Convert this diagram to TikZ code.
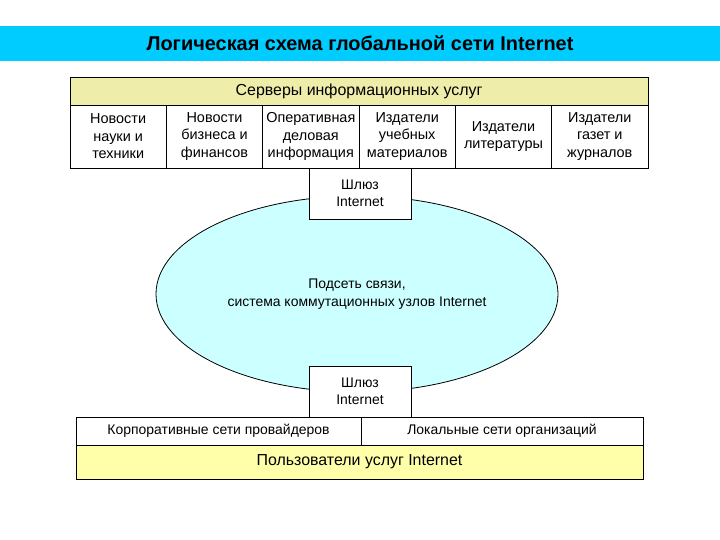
\documentclass[tikz,border=0pt]{standalone}
\usepackage{fontspec}
\setmainfont{Liberation Sans}
\usepackage{tikz}
\usetikzlibrary{shapes.geometric}
\definecolor{barcyan}{RGB}{0,204,255}
\definecolor{netcyan}{RGB}{204,255,255}
\definecolor{headolive}{RGB}{238,238,170}
\definecolor{footyellow}{RGB}{255,255,170}
\tikzstyle{titlebar} = [rectangle, minimum width=720bp, minimum height=35bp, inner sep=0pt, fill=barcyan, font=\fontsize{20}{22}\selectfont\bfseries]
\tikzstyle{cell} = [rectangle, draw=black, line width=0.8bp, inner sep=0pt, align=center, fill=white, font=\fontsize{14}{17.5}\selectfont]
\tikzstyle{server} = [cell, minimum width=96.33bp, minimum height=63bp, font=\fontsize{14.5}{17.5}\selectfont]
\tikzstyle{gateway} = [cell, minimum width=102bp, minimum height=51bp]
\tikzstyle{band} = [cell, font=\fontsize{16}{18}\selectfont]
\tikzstyle{subnet} = [ellipse, draw=black, line width=0.8bp, inner sep=0pt, fill=netcyan, minimum width=402bp, minimum height=196bp, align=center, font=\fontsize{14}{17.5}\selectfont]

\begin{document}
\begin{tikzpicture}[x=1bp, y=-1bp]
\useasboundingbox (0,0) rectangle (720,540);

\node (title) [titlebar] at (360,43.5) {Логическая схема глобальной сети Internet};

\node (servers) [band, minimum width=578bp, minimum height=28bp, fill=headolive] at (359,91.5) {Серверы информационных услуг};
\node (srv1) [server] at (118.2,136.5) {Новости\\науки и\\техники};
\node (srv2) [server] at (214.5,136.5) {Новости\\бизнеса и\\финансов};
\node (srv3) [server] at (310.8,136.5) {Оперативная\\деловая\\информация};
\node (srv4) [server] at (407.2,136.5) {Издатели\\учебных\\материалов};
\node (srv5) [server] at (503.5,136.5) {Издатели\\литературы};
\node (srv6) [server] at (599.8,136.5) {Издатели\\газет и\\журналов};

\node (net) [subnet] at (357,294) {Подсеть связи,\\система коммутационных узлов Internet};

\node (gw1) [gateway] at (360,193.5) {Шлюз\\Internet};
\node (gw2) [gateway] at (360,391.5) {Шлюз\\Internet};

\node (corp) [cell, minimum width=285bp, minimum height=28bp] at (218.5,431) {Корпоративные сети провайдеров};
\node (local) [cell, minimum width=282bp, minimum height=28bp] at (502,431) {Локальные сети организаций};
\node (users) [band, minimum width=567bp, minimum height=34bp, fill=footyellow] at (359.5,462) {Пользователи услуг Internet};

\end{tikzpicture}
\end{document}
